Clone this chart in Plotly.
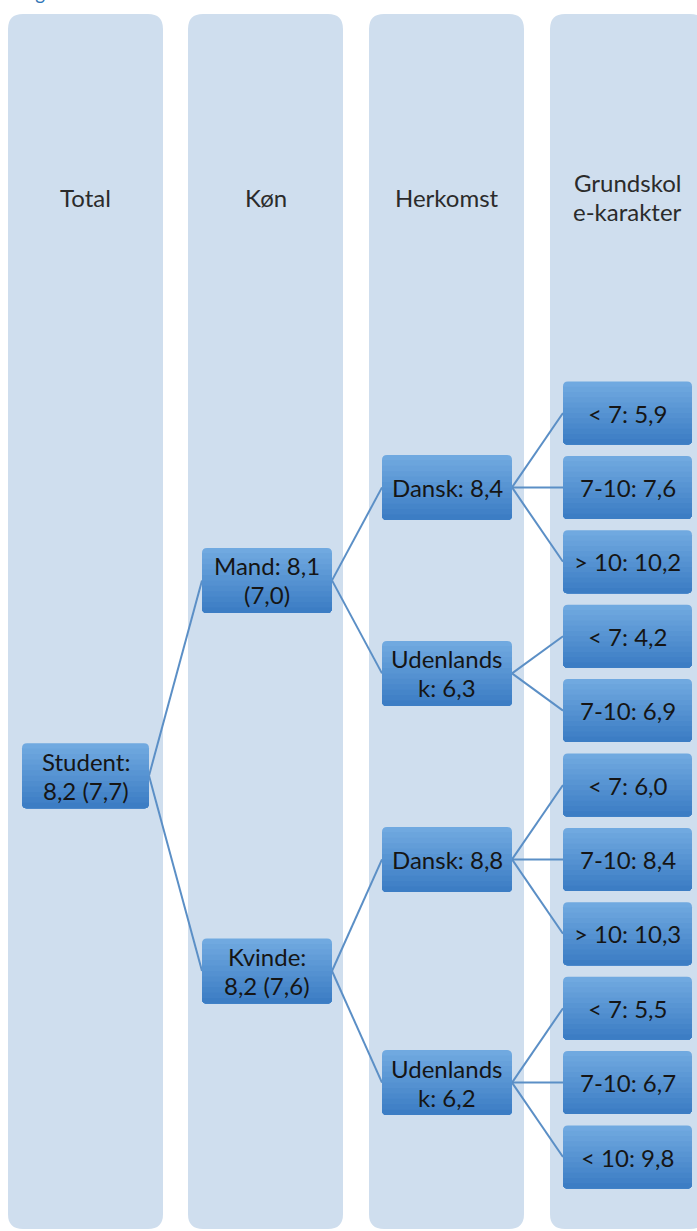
import plotly.graph_objects as go

# ---- data ----
column_titles = ["Total", "Køn", "Herkomst", "Grundskol<br>e-karakter"]
total_labels = ["Student:<br>8,2 (7,7)"]
gender_labels = ["Mand: 8,1<br>(7,0)", "Kvinde:<br>8,2 (7,6)"]
origin_labels = ["Dansk: 8,4", "Udenlands<br>k: 6,3", "Dansk: 8,8", "Udenlands<br>k: 6,2"]
grade_labels = ["< 7: 5,9", "7-10: 7,6", "> 10: 10,2",
                "< 7: 4,2", "7-10: 6,9",
                "< 7: 6,0", "7-10: 8,4", "> 10: 10,3",
                "< 7: 5,5", "7-10: 6,7", "< 10: 9,8"]
gender_parent = [0, 0]
origin_parent = [0, 0, 1, 1]
grade_parent = [0, 0, 0, 1, 1, 2, 2, 2, 3, 3, 3]

title_text = "Figur 8"

# ---- layout (pixel space) ----
W, H = 697, 1231
col_left = [8, 188, 369, 550]
col_w = 155
col_top, col_bot = 14, 1229
box_x = [(22, 149), (202, 332), (382, 512), (563, 692)]
box_h = [65, 65, 65, 63]
FONT = "Lato"
FS = 24
LINE_GAP = 29

leaf_y0, leaf_step = 413, 74.4
grade_y = [leaf_y0 + leaf_step * i for i in range(len(grade_labels))]

def parent_pos(child_y, parents, n):
    out = []
    for p in range(n):
        ys = [y for y, pp in zip(child_y, parents) if pp == p]
        out.append(sum(ys) / len(ys))
    return out

origin_y = parent_pos(grade_y, grade_parent, len(origin_labels))
gender_y = parent_pos(origin_y, origin_parent, len(gender_labels))
total_y = parent_pos(gender_y, gender_parent, len(total_labels))

levels = [(total_labels, total_y), (gender_labels, gender_y),
          (origin_labels, origin_y), (grade_labels, grade_y)]
parents = [None, gender_parent, origin_parent, grade_parent]

def rpath(x0, y0, x1, y1, rt, rb):
    return (f"M {x0+rt},{y0} L {x1-rt},{y0} Q {x1},{y0} {x1},{y0+rt} "
            f"L {x1},{y1-rb} Q {x1},{y1} {x1-rb},{y1} L {x0+rb},{y1} "
            f"Q {x0},{y1} {x0},{y1-rb} L {x0},{y0+rt} Q {x0},{y0} {x0+rt},{y0} Z")

shapes = []
annotations = []

def add_text(xc, yc, label, color):
    lines = label.split("<br>")
    n = len(lines)
    for i, ln in enumerate(lines):
        y = yc + (i - (n - 1) / 2) * LINE_GAP
        annotations.append(dict(x=xc, y=y, xref="x", yref="y", text=ln,
                                showarrow=False,
                                font=dict(family=FONT, size=FS, color=color),
                                xanchor="center", yanchor="middle"))

# columns
for i, cl in enumerate(col_left):
    shapes.append(dict(type="path", path=rpath(cl, col_top, cl + col_w, col_bot, 15, 15),
                       fillcolor="#cfdeee", line=dict(width=0), layer="below",
                       xref="x", yref="y"))
    add_text(cl + col_w / 2, 197, column_titles[i], "#2b2b2b")

# connecting lines
for lv in range(1, 4):
    labels, ys = levels[lv]
    _, pys = levels[lv - 1]
    for j, p in enumerate(parents[lv]):
        shapes.append(dict(type="line", x0=box_x[lv - 1][1], y0=pys[p],
                           x1=box_x[lv][0], y1=ys[j], xref="x", yref="y",
                           line=dict(color="#5b8fc6", width=2)))

# boxes with vertical gradient (overlapping bands, no seams)
top_c = (0x70, 0xa9, 0xe0)
bot_c = (0x3c, 0x7d, 0xc4)
N = 12
for lv, (labels, ys) in enumerate(levels):
    x0, x1 = box_x[lv]
    h = box_h[lv]
    for j, lab in enumerate(labels):
        yc = ys[j]
        yt, yb = yc - h / 2, yc + h / 2
        bh = h / N
        for k in range(N):
            t = k / (N - 1)
            c = tuple(round(top_c[m] + (bot_c[m] - top_c[m]) * t) for m in range(3))
            b0 = yt + k * bh
            rt = 5 if k == 0 else 0
            shapes.append(dict(type="path", path=rpath(x0, b0, x1, yb, rt, 5),
                               fillcolor="rgb(%d,%d,%d)" % c, line=dict(width=0),
                               xref="x", yref="y"))
        add_text((x0 + x1) / 2, yc, lab, "#151515")

annotations.append(dict(x=18, y=6, xref="x", yref="y", text=title_text,
                        showarrow=False, xanchor="left", yanchor="bottom",
                        font=dict(family=FONT, size=19, color="#2e75b6")))

fig = go.Figure()
fig.update_layout(
    width=W, height=H, margin=dict(l=0, r=0, t=0, b=0),
    paper_bgcolor="white", plot_bgcolor="white",
    xaxis=dict(range=[0, W], visible=False, fixedrange=True),
    yaxis=dict(range=[H, 0], visible=False, fixedrange=True),
    shapes=shapes, annotations=annotations, showlegend=False,
)
fig.write_html("out.html", config={"displayModeBar": False},
               post_script="document.body.style.margin='0';document.body.style.overflow='hidden';")
